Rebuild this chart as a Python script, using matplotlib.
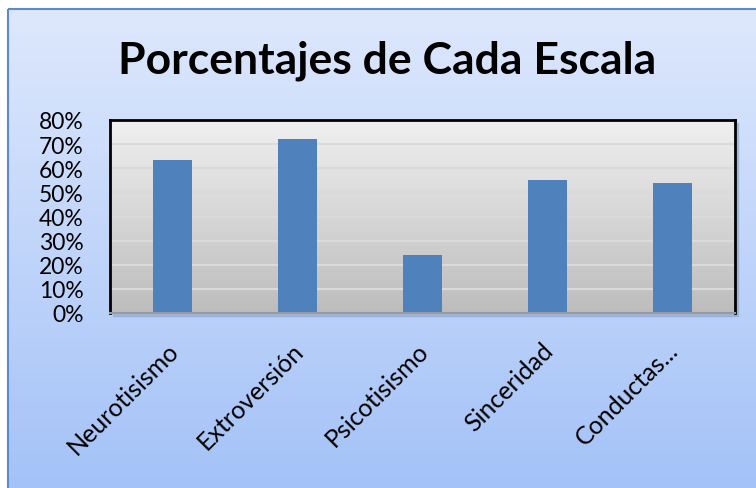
import numpy as np
import matplotlib.pyplot as plt
from matplotlib.patches import Rectangle
from matplotlib.ticker import PercentFormatter
from matplotlib.transforms import ScaledTranslation

# Data
# ----
escalas = ['Neurotisismo', 'Extroversión', 'Psicotisismo', 'Sinceridad', 'Conductas...']
porcentajes = [0.635, 0.72, 0.24, 0.55, 0.54]
y_ticks = np.arange(0, 0.81, 0.1)

plt.rcParams['font.family'] = ['Lato', 'DejaVu Sans']

W, H = 756, 489
fig = plt.figure(figsize=(W / 100, H / 100), dpi=100)
fig.patch.set_facecolor('white')

# Chart background (blue gradient card)
bg = fig.add_axes([0, 0, 1, 1], zorder=-10)
bg.set_xlim(0, W)
bg.set_ylim(H, 0)
bg.axis('off')
grad = np.linspace(0, 1, 256)[:, None]
top, bot = np.array([0.87, 0.91, 0.99]), np.array([0.64, 0.76, 0.97])
cols = top + (bot - top) * grad[..., None]
bg.imshow(cols, extent=[8, W + 5, H + 5, 10], aspect='auto', zorder=0)
bg.add_patch(Rectangle((8, 10), W, H, fill=False, edgecolor='#5B8BC9', lw=1.5, zorder=1))
# shadow behind plot area
bg.add_patch(Rectangle((113, 124), 625, 193, color='#8FA6C8', alpha=0.6, zorder=1))

# Plot area
ax = fig.add_axes([110 / W, 1 - 314 / H, 625 / W, 193 / H], zorder=1)
x = np.arange(len(escalas))
ax.set_xlim(-0.5, len(escalas) - 0.5)
ax.set_ylim(0, 0.8)

g2 = np.linspace(0, 1, 256)[:, None]
gt, gb = np.array([0.94, 0.94, 0.94]), np.array([0.74, 0.74, 0.74])
ax.imshow(gt + (gb - gt) * g2[..., None], extent=[-0.5, len(escalas) - 0.5, 0, 0.8],
          aspect='auto', zorder=0)

for yv in y_ticks[1:-1]:
    ax.axhline(yv, color='#DADADA', lw=1.5, zorder=1)

ax.bar(x, porcentajes, width=0.31, color='#4F81BD', zorder=2)

ax.set_yticks(y_ticks)
ax.yaxis.set_major_formatter(PercentFormatter(1.0, decimals=0))
ax.set_xticks(x)
ax.set_xticklabels(escalas, rotation=45, ha='right', rotation_mode='anchor')
ax.tick_params(axis='y', length=0, labelsize=16.5, pad=19)
ax.tick_params(axis='x', length=0, labelsize=18, pad=18)
for lab in ax.get_yticklabels():
    lab.set_horizontalalignment('right')
shift = ScaledTranslation(-6 / 100, 0, fig.dpi_scale_trans)
for lab in ax.get_xticklabels():
    lab.set_transform(lab.get_transform() + shift)

for side in ['top', 'left', 'right']:
    ax.spines[side].set_color('black')
    ax.spines[side].set_linewidth(2)
ax.spines['bottom'].set_color('#9A9A9A')
ax.spines['bottom'].set_linewidth(1.5)

fig.text(387 / W, 1 - 61 / H, 'Porcentajes de Cada Escala', ha='center', va='center',
         fontsize=32, fontweight='bold')

fig.savefig('out.png', dpi=100)
